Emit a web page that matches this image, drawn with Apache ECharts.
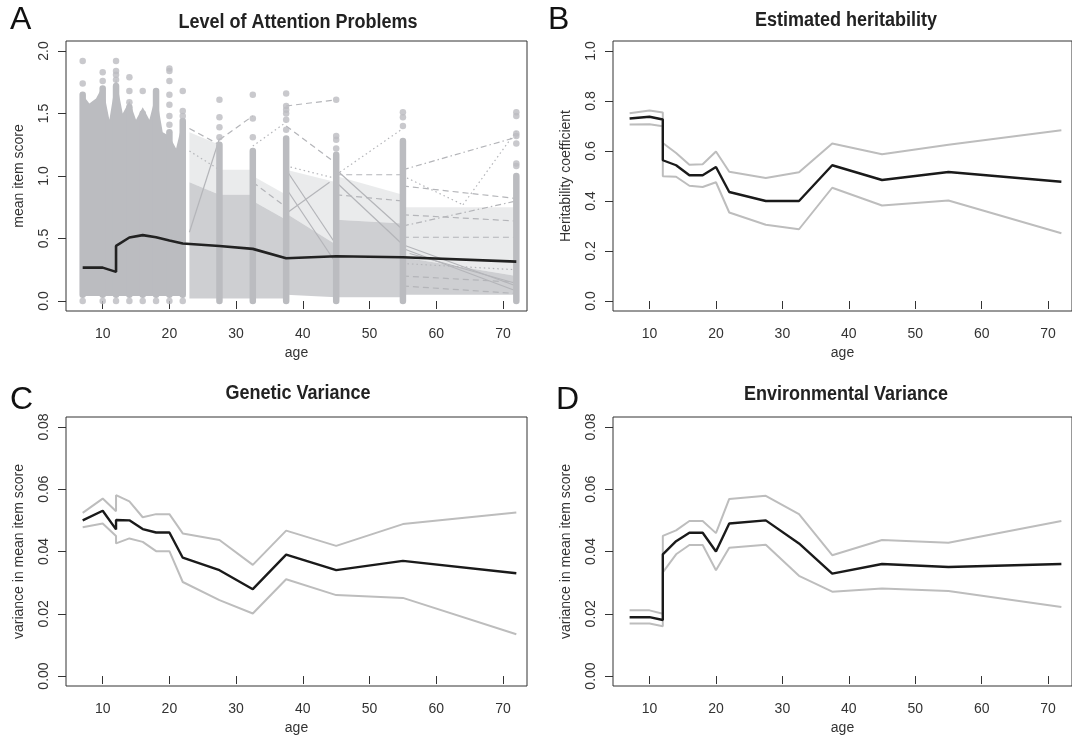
<!DOCTYPE html>
<html>
<head>
<meta charset="utf-8">
<style>
  html, body { margin: 0; padding: 0; background: #fff; }
  #chart { width: 1072px; height: 737px; }
</style>
</head>
<body>
<div id="chart"></div>
<script src="https://cdn.jsdelivr.net/npm/echarts@6/dist/echarts.min.js"></script>
<script>
// measurement ages (12 appears twice, two cohorts meet there)
var ages = [7, 10, 12, 12, 14, 16, 18, 20, 22, 27.5, 32.5, 37.5, 45, 55, 72];

// A: fitted mean of the attention problems score
var attnMean = [0.267, 0.267, 0.233, 0.441, 0.508, 0.527, 0.51, 0.484, 0.46, 0.44, 0.417, 0.342, 0.358, 0.35, 0.315];

// B: heritability with upper / lower bound
var h2Est   = [0.730, 0.737, 0.726, 0.563, 0.543, 0.503, 0.503, 0.536, 0.436, 0.400, 0.400, 0.543, 0.484, 0.516, 0.477];
var h2Upper = [0.751, 0.762, 0.754, 0.632, 0.592, 0.545, 0.547, 0.598, 0.517, 0.492, 0.515, 0.630, 0.587, 0.625, 0.683];
var h2Lower = [0.706, 0.707, 0.699, 0.499, 0.497, 0.461, 0.456, 0.475, 0.354, 0.305, 0.287, 0.453, 0.382, 0.402, 0.271];

// C: genetic variance
var vaEst   = [0.0500, 0.0531, 0.0471, 0.0501, 0.0500, 0.0472, 0.0461, 0.0461, 0.0380, 0.0340, 0.0279, 0.0390, 0.0340, 0.0370, 0.0330];
var vaUpper = [0.0524, 0.0570, 0.0529, 0.0581, 0.0561, 0.0510, 0.0520, 0.0520, 0.0458, 0.0437, 0.0357, 0.0467, 0.0418, 0.0488, 0.0525];
var vaLower = [0.0478, 0.0490, 0.0450, 0.0426, 0.0442, 0.0431, 0.0401, 0.0401, 0.0302, 0.0244, 0.0201, 0.0311, 0.0260, 0.0251, 0.0134];

// D: environmental variance
var veEst   = [0.0189, 0.0189, 0.0180, 0.0391, 0.0433, 0.0460, 0.0460, 0.0400, 0.0490, 0.0500, 0.0426, 0.0329, 0.0360, 0.0350, 0.0360];
var veUpper = [0.0211, 0.0211, 0.0200, 0.0450, 0.0468, 0.0498, 0.0498, 0.0459, 0.0569, 0.0579, 0.0520, 0.0388, 0.0437, 0.0428, 0.0498];
var veLower = [0.0169, 0.0169, 0.0160, 0.0333, 0.0391, 0.0421, 0.0421, 0.0340, 0.0412, 0.0422, 0.0322, 0.0271, 0.0281, 0.0273, 0.0222];

// A raw scores
// solid columns of dots: [age, low, high]
var dotColumns = [
  [7, 0.05, 1.65], [10, 0.05, 1.7], [12, 0.05, 1.72], [14, 0.05, 1.55], [16, 0.05, 1.5],
  [18, 0.05, 1.68], [20, 0.05, 1.35], [22, 0.05, 1.44], [27.5, 0, 1.25], [32.5, 0, 1.2],
  [37.5, 0, 1.3], [45, 0, 1.17], [55, 0, 1.28], [72, 0, 1.0]
];
// single dots outside the columns
var looseDots = [
  [7, 0], [7, 1.74], [7, 1.92],
  [10, 0], [10, 1.76], [10, 1.83],
  [12, 0], [12, 1.77], [12, 1.81], [12, 1.84], [12, 1.92],
  [14, 0], [14, 1.59], [14, 1.68], [14, 1.79],
  [16, 0], [16, 1.68],
  [18, 0],
  [20, 0], [20, 1.41], [20, 1.48], [20, 1.57], [20, 1.65], [20, 1.76], [20, 1.84], [20, 1.86],
  [22, 0], [22, 1.48], [22, 1.52], [22, 1.68],
  [27.5, 1.31], [27.5, 1.39], [27.5, 1.47], [27.5, 1.61],
  [32.5, 1.31], [32.5, 1.46], [32.5, 1.65],
  [37.5, 1.37], [37.5, 1.45], [37.5, 1.5], [37.5, 1.53], [37.5, 1.56], [37.5, 1.66],
  [45, 1.22], [45, 1.29], [45, 1.32], [45, 1.61],
  [55, 1.4], [55, 1.47], [55, 1.51],
  [72, 1.08], [72, 1.1], [72, 1.26], [72, 1.32], [72, 1.34], [72, 1.48], [72, 1.51]
];
// top edge of the solid mass of trajectories, age 7 to 22
var massTop = [
  [7, 1.65], [8, 1.58], [9, 1.62], [10, 1.72], [11, 1.45], [12, 1.78], [13, 1.5], [14, 1.6],
  [15, 1.45], [16, 1.55], [17, 1.45], [18, 1.66], [19, 1.35], [20, 1.32], [21, 1.22], [22, 1.44]
];
var massBottom = [[22, 0.04], [7, 0.04]];
// thick / thin bundles of trajectories later on: [age1, low1, high1, age2, low2, high2]
var thickBundles = [
  [23, 0.02, 0.95, 27.5, 0.02, 0.85],
  [27.5, 0.02, 0.85, 32.5, 0.02, 0.85],
  [32.5, 0.02, 0.8, 37.5, 0.02, 0.65],
  [37.5, 0.05, 0.7, 45, 0.03, 0.45],
  [45, 0.03, 0.65, 55, 0.03, 0.62],
  [55, 0.05, 0.35, 72, 0.05, 0.2]
];
var thinBundles = [
  [23, 0.95, 1.35, 27.5, 0.85, 1.25],
  [27.5, 0.85, 1.05, 32.5, 0.85, 1.05],
  [32.5, 0.8, 1.0, 37.5, 0.65, 0.85],
  [37.5, 0.7, 1.05, 45, 0.45, 0.95],
  [45, 0.65, 1.0, 55, 0.62, 0.85],
  [55, 0.35, 0.75, 72, 0.2, 0.75]
];
// single trajectories that stand out: [age1, score1, age2, score2]
var solidPaths = [
  [45, 1.05, 55, 0.57], [45, 0.95, 55, 0.45], [37.5, 1.05, 45, 0.45], [37.5, 0.9, 45, 0.3],
  [37.5, 0.7, 44, 0.95], [23, 0.55, 27.5, 1.3], [55, 0.45, 72, 0.12], [55, 0.42, 72, 0.08],
  [56, 0.38, 72, 0.14]
];
var dashedPaths = [
  [23, 1.38, 27.5, 1.25], [27.5, 1.29, 32.5, 1.48], [37.5, 1.56, 45, 1.61], [37.5, 1.4, 45, 1.1],
  [45, 1.01, 55, 1.01], [55, 0.92, 72, 0.82], [55, 0.69, 72, 0.64], [55, 0.51, 72, 0.51],
  [55, 0.2, 72, 0.15], [55, 0.12, 72, 0.06], [45, 0.85, 55, 0.8], [32.5, 0.95, 37.5, 0.75]
];
var dottedPaths = [
  [32.5, 1.24, 37.5, 1.43], [37.5, 1.08, 45, 0.98], [45, 1.01, 55, 1.38], [55, 1.0, 64, 0.77],
  [64, 0.77, 72, 1.36], [55, 0.3, 72, 0.25], [23, 1.2, 27.5, 1.05]
];
var dashDotPaths = [
  [55, 1.05, 72, 1.31], [55, 0.6, 72, 0.8]
];

// tick values
var ageTicks = [10, 20, 30, 40, 50, 60, 70];
var scoreTicks = [0, 0.5, 1, 1.5, 2];
var h2Ticks = [0, 0.2, 0.4, 0.6, 0.8, 1];
var varTicks = [0, 0.02, 0.04, 0.06, 0.08];

var FONT = '"Liberation Sans", Arial, Helvetica, sans-serif';
var INK = '#333';
var RAW = '#bbbcc0';
var BAND = '#bdbdbd';

function pairs(ys) {
  return ages.map(function (a, i) { return [a, ys[i]]; });
}

function ageAxis(grid) {
  return {
    type: 'value', gridIndex: grid, min: 4.5, max: 73.6,
    axisLine: { show: false },
    axisTick: { show: true, inside: false, length: 8, customValues: ageTicks, lineStyle: { color: INK } },
    axisLabel: { customValues: ageTicks, margin: 16, fontSize: 14, color: INK, fontFamily: FONT },
    splitLine: { show: false },
    name: 'age', nameLocation: 'middle', nameGap: 35,
    nameTextStyle: { fontSize: 14, color: INK, fontFamily: FONT }
  };
}

function valueAxis(grid, min, max, ticks, digits, name) {
  return {
    type: 'value', gridIndex: grid, min: min, max: max,
    axisLine: { show: false },
    axisTick: { show: true, inside: false, length: 8, customValues: ticks, lineStyle: { color: INK } },
    axisLabel: {
      customValues: ticks, rotate: 90, margin: 15, fontSize: 14, color: INK, fontFamily: FONT,
      formatter: function (v) { return v.toFixed(digits); }
    },
    splitLine: { show: false },
    name: name, nameLocation: 'middle', nameGap: 40,
    nameTextStyle: { fontSize: 14, color: INK, fontFamily: FONT }
  };
}

function boundLine(grid, ys, color, width) {
  return {
    type: 'line', xAxisIndex: grid, yAxisIndex: grid, data: pairs(ys),
    showSymbol: false, silent: true,
    lineStyle: { color: color, width: width }
  };
}

function pathSeries(list, dash) {
  return {
    type: 'custom', xAxisIndex: 0, yAxisIndex: 0, data: list, silent: true, z: 2,
    renderItem: function (params, api) {
      var p1 = api.coord([api.value(0), api.value(1)]);
      var p2 = api.coord([api.value(2), api.value(3)]);
      return {
        type: 'line',
        shape: { x1: p1[0], y1: p1[1], x2: p2[0], y2: p2[1] },
        style: { stroke: '#b4b5b9', lineWidth: 1.2, lineDash: dash, fill: null }
      };
    }
  };
}

function bundleSeries(list, opacity) {
  return {
    type: 'custom', xAxisIndex: 0, yAxisIndex: 0, data: list, silent: true, z: 1,
    renderItem: function (params, api) {
      var pts = [
        api.coord([api.value(0), api.value(1)]),
        api.coord([api.value(3), api.value(4)]),
        api.coord([api.value(3), api.value(5)]),
        api.coord([api.value(0), api.value(2)])
      ];
      return { type: 'polygon', shape: { points: pts }, style: { fill: RAW, opacity: opacity } };
    }
  };
}

var chart = echarts.init(document.getElementById('chart'));

chart.setOption({
  animation: false,
  backgroundColor: '#fff',
  grid: [
    { left: 66, top: 41, width: 461, height: 270, show: true, borderColor: INK, borderWidth: 1 },
    { left: 613, top: 41, width: 461, height: 270, show: true, borderColor: INK, borderWidth: 1 },
    { left: 66, top: 417, width: 461, height: 269, show: true, borderColor: INK, borderWidth: 1 },
    { left: 613, top: 417, width: 461, height: 269, show: true, borderColor: INK, borderWidth: 1 }
  ],
  xAxis: [ageAxis(0), ageAxis(1), ageAxis(2), ageAxis(3)],
  yAxis: [
    valueAxis(0, -0.08, 2.08, scoreTicks, 1, 'mean item score'),
    valueAxis(1, -0.04, 1.04, h2Ticks, 1, 'Heritability coefficient'),
    valueAxis(2, -0.0032, 0.0832, varTicks, 2, 'variance in mean item score'),
    valueAxis(3, -0.0032, 0.0832, varTicks, 2, 'variance in mean item score')
  ],
  graphic: [
    { type: 'text', x: 10, y: 20, style: { text: 'A', font: '32px ' + FONT, fill: '#111', align: 'left', verticalAlign: 'middle', textAlign: 'left', textVerticalAlign: 'middle' } },
    { type: 'text', x: 548, y: 20, style: { text: 'B', font: '32px ' + FONT, fill: '#111', align: 'left', verticalAlign: 'middle', textAlign: 'left', textVerticalAlign: 'middle' } },
    { type: 'text', x: 10, y: 400, style: { text: 'C', font: '32px ' + FONT, fill: '#111', align: 'left', verticalAlign: 'middle', textAlign: 'left', textVerticalAlign: 'middle' } },
    { type: 'text', x: 556, y: 400, style: { text: 'D', font: '32px ' + FONT, fill: '#111', align: 'left', verticalAlign: 'middle', textAlign: 'left', textVerticalAlign: 'middle' } },
    { type: 'text', x: 298, y: 22, scaleX: 0.9, style: { text: 'Level of Attention Problems', font: 'bold 20px ' + FONT, fill: '#222', align: 'center', verticalAlign: 'middle', textAlign: 'center', textVerticalAlign: 'middle' } },
    { type: 'text', x: 846, y: 20, scaleX: 0.9, style: { text: 'Estimated heritability', font: 'bold 20px ' + FONT, fill: '#222', align: 'center', verticalAlign: 'middle', textAlign: 'center', textVerticalAlign: 'middle' } },
    { type: 'text', x: 298, y: 393, scaleX: 0.9, style: { text: 'Genetic Variance', font: 'bold 20px ' + FONT, fill: '#222', align: 'center', verticalAlign: 'middle', textAlign: 'center', textVerticalAlign: 'middle' } },
    { type: 'text', x: 846, y: 394, scaleX: 0.9, style: { text: 'Environmental Variance', font: 'bold 20px ' + FONT, fill: '#222', align: 'center', verticalAlign: 'middle', textAlign: 'center', textVerticalAlign: 'middle' } }
  ],
  series: [
    // A: raw trajectories
    bundleSeries(thickBundles, 0.72),
    bundleSeries(thinBundles, 0.3),
    pathSeries(solidPaths, null),
    pathSeries(dashedPaths, [6, 4]),
    pathSeries(dottedPaths, [1.5, 3]),
    pathSeries(dashDotPaths, [6, 3, 1.5, 3]),
    {
      type: 'custom', xAxisIndex: 0, yAxisIndex: 0, data: [0], silent: true, z: 3,
      renderItem: function (params, api) {
        var pts = massTop.concat(massBottom).map(function (p) { return api.coord(p); });
        return { type: 'polygon', shape: { points: pts }, style: { fill: RAW } };
      }
    },
    {
      type: 'custom', xAxisIndex: 0, yAxisIndex: 0, data: dotColumns, silent: true, z: 4,
      renderItem: function (params, api) {
        var lo = api.coord([api.value(0), api.value(1)]);
        var hi = api.coord([api.value(0), api.value(2)]);
        return {
          type: 'line',
          shape: { x1: lo[0], y1: lo[1], x2: hi[0], y2: hi[1] },
          style: { stroke: RAW, lineWidth: 6.5, lineCap: 'round' }
        };
      }
    },
    {
      type: 'scatter', xAxisIndex: 0, yAxisIndex: 0, data: looseDots, silent: true, z: 4,
      symbolSize: 6.5, itemStyle: { color: RAW }
    },
    Object.assign(boundLine(0, attnMean, '#222', 2.6), { z: 6 }),

    // B
    boundLine(1, h2Upper, BAND, 2),
    boundLine(1, h2Lower, BAND, 2),
    boundLine(1, h2Est, '#1a1a1a', 2.4),
    // C
    boundLine(2, vaUpper, BAND, 2),
    boundLine(2, vaLower, BAND, 2),
    boundLine(2, vaEst, '#1a1a1a', 2.4),
    // D
    boundLine(3, veUpper, BAND, 2),
    boundLine(3, veLower, BAND, 2),
    boundLine(3, veEst, '#1a1a1a', 2.4)
  ]
});
</script>
</body>
</html>
